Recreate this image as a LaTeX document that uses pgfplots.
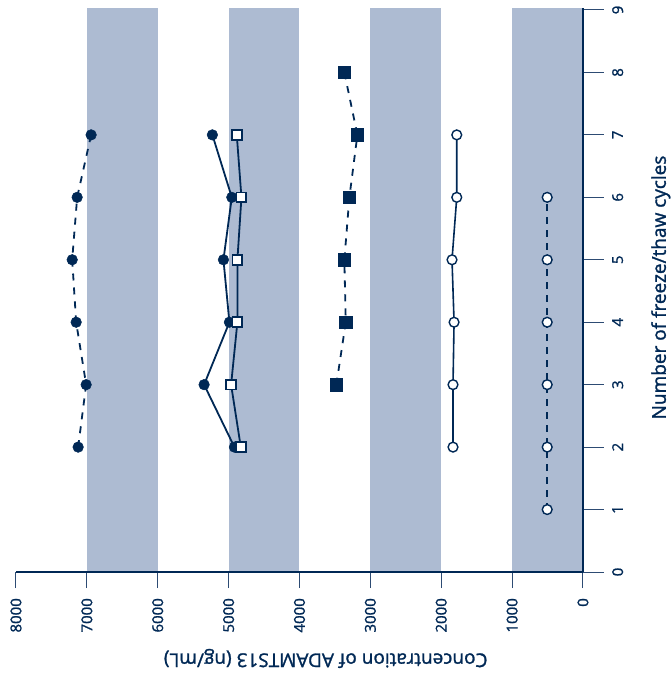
\documentclass[border=0pt]{standalone}
\usepackage{fontspec}
\setmainfont{Open Sans}
\newfontfamily\labelfont{Open Sans}[FakeBold=1.4]
\newfontfamily\tickfont{Open Sans}[FakeBold=1.2, Scale=1.5]
\usepackage{pgfplots}
\pgfplotsset{compat=1.18}
\definecolor{navy}{RGB}{0,40,85}
\definecolor{tickcol}{RGB}{45,75,115}
\definecolor{band}{RGB}{173,187,210}

\begin{document}
\begin{tikzpicture}
\begin{axis}[
  at={(0pt,0pt)}, anchor=south west,
  scale only axis, width=567pt, height=564pt,
  xmin=0, xmax=8000, ymin=0, ymax=9.032,
  x dir=reverse,
  axis x line*=bottom, axis y line*=right,
  axis line style={navy, line width=2pt},
  axis on top,
  xtick={0,1000,...,8000}, ytick={0,1,...,9},
  tick align=outside,
  major tick length=16pt,
  xtick style={tickcol, line width=1pt},
  ytick style={tickcol, line width=1pt, /pgfplots/major tick length=21pt},
  /pgf/number format/assume math mode=true,
  xticklabel={\tickfont\pgfmathprintnumber[fixed,precision=0,1000 sep={}]{\tick}},
  yticklabel={\tickfont\pgfmathprintnumber[fixed,precision=0]{\tick}},
  tick label style={text=navy},
  xticklabel style={yshift=-10pt, rotate=90, anchor=east, inner sep=0pt},
  yticklabel style={xshift=13pt, rotate=90, anchor=north, inner sep=0pt},
  clip=false,
]
% shaded concentration bands
\fill[band] (axis cs:6000,0) rectangle (axis cs:7000,9.032);
\fill[band] (axis cs:4000,0) rectangle (axis cs:5000,9.032);
\fill[band] (axis cs:2000,0) rectangle (axis cs:3000,9.032);
\fill[band] (axis cs:0,0) rectangle (axis cs:1000,9.032);

% filled circles, dashed
\addplot[navy, line width=1.8pt, dash pattern=on 7pt off 7pt,
  mark=*, mark size=5.3pt, mark options={solid, fill=navy, line width=0.5pt}]
  coordinates {(7123,2) (7010,3) (7151,4) (7207,5) (7137,6) (6940,7)};
% filled circles, solid
\addplot[navy, line width=1.8pt,
  mark=*, mark size=5.3pt, mark options={solid, fill=navy, line width=0.5pt}]
  coordinates {(4918,2) (5346,3) (4989,4) (5073,5) (4955,6) (5229,7)};
% open squares, solid
\addplot[navy, line width=1.8pt,
  mark=square*, mark size=4.9pt, mark options={solid, fill=white, line width=1.8pt}]
  coordinates {(4828,2) (4965,3) (4876,4) (4876,5) (4819,6) (4885,7)};
% filled squares, dashed
\addplot[navy, line width=1.8pt, dash pattern=on 7pt off 7pt,
  mark=square*, mark size=6.2pt, mark options={solid, fill=navy, line width=0.5pt}]
  coordinates {(3480,3) (3347,4) (3367,5) (3296,6) (3183,7) (3367,8)};
% open circles, solid
\addplot[navy, line width=1.6pt,
  mark=*, mark size=4.9pt, mark options={solid, fill=white, line width=1.4pt}]
  coordinates {(1834,2) (1834,3) (1819,4) (1848,5) (1781,6) (1781,7)};
% open circles, dashed
\addplot[navy, line width=1.4pt, dash pattern=on 6.5pt off 6.5pt,
  mark=*, mark size=4.9pt, mark options={solid, fill=white, line width=1.4pt}]
  coordinates {(505,1) (505,2) (505,3) (505,4) (505,5) (505,6)};
\end{axis}

\node[rotate=180, font=\labelfont\fontsize{19}{19}\selectfont, text=navy, inner sep=0pt]
  at (309.7pt,-86.5pt) {Concentration of ADAMTS13 (ng/mL)};
\node[rotate=90, font=\labelfont\fontsize{19}{19}\selectfont, text=navy, inner sep=0pt]
  at (644.8pt,284.5pt) {Number of freeze/thaw cycles};

\pgfresetboundingbox
\path (-16pt,-103pt) rectangle (656pt,572pt);
\end{tikzpicture}
\end{document}
